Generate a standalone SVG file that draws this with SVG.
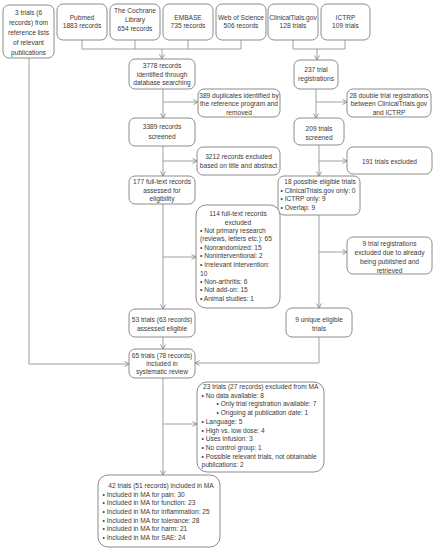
<svg xmlns="http://www.w3.org/2000/svg" width="435" height="550" viewBox="0 0 435 550">
<defs>
<marker id="arr" markerWidth="6" markerHeight="6" refX="5" refY="3" orient="auto" markerUnits="userSpaceOnUse">
<path d="M0.5,0.5 L5,3 L0.5,5.5" fill="none" stroke="#8c8c8c" stroke-width="0.9"/>
</marker>
</defs>
<style>
.b{fill:#fff;stroke:#7f7f7f;stroke-width:0.9}
.c{fill:none;stroke:#a0a0a0;stroke-width:1}
.a{marker-end:url(#arr)}
text{font-family:"Liberation Sans",Arial,sans-serif;font-size:6.6px;fill:#3a3a3a}
.m{text-anchor:middle}
</style>
<rect width="435" height="550" fill="#fff"/>
<g id="connectors">
<path class="c" d="M82,40 V49 M135,40 V49 M188,40 V49 M241,40 V49 M82,49 H241"/>
<path class="c a" d="M162,49 V59"/>
<path class="c" d="M293,40 V49 M345,40 V49 M293,49 H345"/>
<path class="c a" d="M317,49 V60"/>
<path class="c a" d="M163,89 V118"/>
<path class="c a" d="M163,102 H198"/>
<path class="c a" d="M163,146 V176"/>
<path class="c a" d="M163,161 H197"/>
<path class="c a" d="M163,204 V309"/>
<path class="c a" d="M163,257 H196"/>
<path class="c a" d="M163,337 V349"/>
<path class="c a" d="M163,378 V475"/>
<path class="c a" d="M163,424 H197"/>
<path class="c a" d="M29,58 V364 H129"/>
<path class="c a" d="M316,89 V118"/>
<path class="c a" d="M316,102 H347"/>
<path class="c a" d="M319,145 V176"/>
<path class="c a" d="M319,161 H347"/>
<path class="c a" d="M319,215 V308"/>
<path class="c a" d="M319,252 H347"/>
<path class="c a" d="M319,337 V363 H195"/>
</g>
<g id="n_ref"><rect class="b" x="3" y="5" width="51" height="53" rx="6"/>
<text class="m" x="28.5" y="15">3 trials (6</text><text class="m" x="28.5" y="25">records) from</text><text class="m" x="28.5" y="35">reference lists</text><text class="m" x="28.5" y="45">of relevant</text><text class="m" x="28.5" y="54.5">publications</text></g>
<g id="n_pubmed"><rect class="b" x="57" y="4" width="50" height="36" rx="6"/>
<text class="m" x="82" y="19.5">Pubmed</text><text class="m" x="82" y="28">1883 records</text></g>
<g id="n_cochrane"><rect class="b" x="110" y="4" width="50" height="36" rx="6"/>
<text class="m" x="135" y="12.5">The Cochrane</text><text class="m" x="135" y="21.5">Library</text><text class="m" x="135" y="30.5">654 records</text></g>
<g id="n_embase"><rect class="b" x="163" y="4" width="50" height="36" rx="6"/>
<text class="m" x="188" y="19.5">EMBASE</text><text class="m" x="188" y="28">735 records</text></g>
<g id="n_wos"><rect class="b" x="216" y="4" width="50" height="36" rx="6"/>
<text class="m" x="241" y="19.5">Web of Science</text><text class="m" x="241" y="28">506 records</text></g>
<g id="n_ct"><rect class="b" x="268" y="4" width="50" height="36" rx="6"/>
<text class="m" x="293" y="19.5">ClinicalTials.gov</text><text class="m" x="293" y="28">128 trials</text></g>
<g id="n_ictrp"><rect class="b" x="321" y="4" width="49" height="36" rx="6"/>
<text class="m" x="345.5" y="19.5">ICTRP</text><text class="m" x="345.5" y="28">109 trials</text></g>
<g id="n_3778"><rect class="b" x="129" y="59" width="66" height="30" rx="6"/>
<text class="m" x="162" y="67.5">3778 records</text><text class="m" x="162" y="76.5">identified through</text><text class="m" x="162" y="85">database searching</text></g>
<g id="n_237"><rect class="b" x="294" y="60" width="44" height="29" rx="6"/>
<text class="m" x="316" y="72">237 trial</text><text class="m" x="316" y="81">registrations</text></g>
<g id="n_389"><rect class="b" x="198" y="89" width="82" height="28" rx="6"/>
<text class="m" x="239" y="97.5">389 duplicates identified by</text><text class="m" x="239" y="106">the reference program and</text><text class="m" x="239" y="114.5">removed</text></g>
<g id="n_28"><rect class="b" x="347" y="89" width="84" height="28" rx="6"/>
<text class="m" x="389" y="97.5">28 double trial registrations</text><text class="m" x="389" y="106">between ClinicalTrials.gov</text><text class="m" x="389" y="114.5">and ICTRP</text></g>
<g id="n_3389"><rect class="b" x="129" y="118" width="66" height="28" rx="6"/>
<text class="m" x="162" y="129">3389 records</text><text class="m" x="162" y="139">screened</text></g>
<g id="n_209"><rect class="b" x="294" y="118" width="50" height="27" rx="6"/>
<text class="m" x="319" y="131">209 trials</text><text class="m" x="319" y="139.5">screened</text></g>
<g id="n_3212"><rect class="b" x="197" y="147" width="83" height="28" rx="6"/>
<text class="m" x="238.5" y="159">3212 records excluded</text><text class="m" x="238.5" y="167.5">based on title and abstract</text></g>
<g id="n_191"><rect class="b" x="347" y="147" width="85" height="27" rx="6"/>
<text class="m" x="389.5" y="163.5">191 trials excluded</text></g>
<g id="n_177"><rect class="b" x="129" y="176" width="66" height="28" rx="6"/>
<text class="m" x="162" y="183.5">177 full-text records</text><text class="m" x="162" y="192.5">assessed for</text><text class="m" x="162" y="201">eligibility</text></g>
<g id="n_18"><rect class="b" x="278" y="176" width="82" height="39" rx="6"/>
<text class="m" x="320" y="184">18 possible eligible trials</text><text x="280.5" y="192.5">• ClinicalTrials.gov only: 0</text><text x="280.5" y="201">• ICTRP only: 9</text><text x="280.5" y="209.5">• Overlap: 9</text></g>
<g id="n_114"><rect class="b" x="196" y="205" width="84" height="103" rx="10"/>
<text class="m" x="238" y="216.3">114 full-text records</text><text class="m" x="238" y="224.6">excluded</text>
<text x="200" y="233">• Not primary research</text><text x="200" y="241.3">(reviews, letters etc.): 65</text><text x="200" y="250">• Nonrandomized: 15</text><text x="200" y="258.3">• Noninterventional: 2</text><text x="200" y="267">• Irrelevant intervention:</text><text x="200" y="275.6">10</text><text x="200" y="284">• Non-arthritis: 6</text><text x="200" y="292.3">• Not add-on: 15</text><text x="200" y="301">• Animal studies: 1</text></g>
<g id="n_9reg"><rect class="b" x="347" y="237" width="85" height="37" rx="6"/>
<text class="m" x="389.5" y="246">9 trial registrations</text><text class="m" x="389.5" y="255">excluded due to already</text><text class="m" x="389.5" y="264">being published and</text><text class="m" x="389.5" y="272.5">retrieved</text></g>
<g id="n_53"><rect class="b" x="129" y="309" width="66" height="28" rx="6"/>
<text class="m" x="162" y="321.5">53 trials (63 records)</text><text class="m" x="162" y="330.5">assessed eligible</text></g>
<g id="n_9u"><rect class="b" x="286" y="308" width="66" height="29" rx="6"/>
<text class="m" x="319" y="321.5">9 unique eligible</text><text class="m" x="319" y="330.5">trials</text></g>
<g id="n_65"><rect class="b" x="129" y="349" width="66" height="29" rx="6"/>
<text class="m" x="162" y="357.5">65 trials (78 records)</text><text class="m" x="162" y="366">included in</text><text class="m" x="162" y="374">systematic review</text></g>
<g id="n_23"><rect class="b" x="197" y="382" width="127" height="90" rx="10"/>
<text x="203" y="389">23 trials (27 records) excluded from MA</text>
<text x="201.5" y="397.7">• No data available: 8</text>
<text x="216.5" y="406.4">• Only trial registration available: 7</text>
<text x="216.5" y="415.1">• Ongoing at publication date: 1</text>
<text x="201.5" y="423.8">• Language: 5</text>
<text x="201.5" y="432.5">• High vs. low dose: 4</text>
<text x="201.5" y="441.2">• Uses infusion: 3</text>
<text x="201.5" y="449.9">• No control group: 1</text>
<text x="201.5" y="458.6">• Possible relevant trials, not obtainable</text>
<text x="201.5" y="467.3">publications: 2</text></g>
<g id="n_42"><rect class="b" x="98" y="475" width="122" height="72" rx="10"/>
<text class="m" x="161" y="488">42 trials (51 records) included in MA</text>
<text x="102.5" y="496.6">• Included in MA for pain: 30</text>
<text x="102.5" y="505.3">• Included in MA for function: 23</text>
<text x="102.5" y="514">• Included in MA for inflammation: 25</text>
<text x="102.5" y="522.5">• Included in MA for tolerance: 28</text>
<text x="102.5" y="531">• Included in MA for harm: 21</text>
<text x="102.5" y="539.6">• Included in MA for SAE: 24</text></g>
</svg>
